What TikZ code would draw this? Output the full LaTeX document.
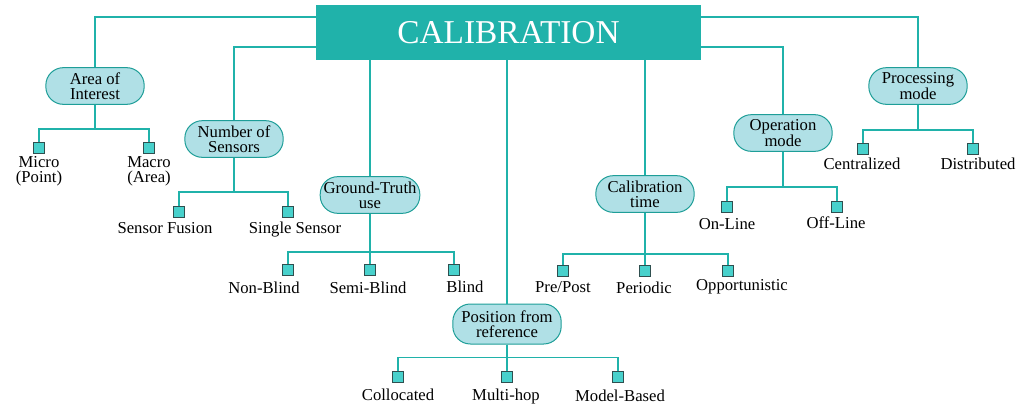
\documentclass[tikz,border=0pt]{standalone}
\usepackage{fontspec}
\setmainfont{Liberation Serif}
\usetikzlibrary{calc}

\definecolor{seagreen}{HTML}{20B2AA}
\definecolor{pillfill}{HTML}{B0E0E6}
\definecolor{pilldraw}{HTML}{1E9E98}
\definecolor{leaffill}{HTML}{48D1CC}
\definecolor{leafdraw}{HTML}{2F4F4F}

\tikzset{
  title/.style={fill=seagreen, text=white, minimum width=231pt, minimum height=33pt,
    font=\fontsize{20}{22}\selectfont},
  pill/.style={draw=pilldraw, fill=pillfill, rounded corners=10.5pt, line width=0.6pt,
    minimum width=59pt, minimum height=22pt, inner xsep=2pt, inner ysep=1pt,
    align=center, font=\fontsize{10}{9}\selectfont},
  leaf/.style={draw=leafdraw, fill=leaffill, minimum size=6.6pt, inner sep=0pt, line width=0.5pt},
  lbl/.style={align=center, inner sep=0pt, font=\fontsize{10}{9}\selectfont},
  wire/.style={draw=seagreen, line width=0.9pt}
}

\begin{document}
\begin{tikzpicture}[x=0.6pt,y=-0.6pt]
        \useasboundingbox (0,0) rectangle (1018,407);

        % main box
        \node[title] (calib) at (508.5,32.5) {CALIBRATION};

        % first level
        \begin{scope}[every node/.style={pill}]
          \node (area) at (95,86)   {Area of\\Interest};
          \node (nsen) at (234,139) {Number of\\Sensors};
          \node (gt)   at (370,195) {Ground-Truth\\use};
          \node (pos)  at (507,324) [minimum width=65pt, minimum height=24pt] {Position from\\reference};
          \node (ctim) at (645,194) {Calibration\\time};
          \node (opm)  at (783,133) {Operation\\mode};
          \node (prm)  at (918,86)  {Processing\\mode};
        \end{scope}

        % leaves
        \begin{scope}[every node/.style={leaf}]
          \node (a1) at (39,148)  {};
          \node (a2) at (149,148) {};
          \node (n1) at (179,212) {};
          \node (n2) at (288,212) {};
          \node (g1) at (288,270) {};
          \node (g2) at (370,270) {};
          \node (g3) at (454,270) {};
          \node (p1) at (398,377) {};
          \node (p2) at (507,377) {};
          \node (p3) at (618,377) {};
          \node (c1) at (563,271) {};
          \node (c2) at (645,271) {};
          \node (c3) at (728,271) {};
          \node (o1) at (727,207) {};
          \node (o2) at (837,207) {};
          \node (r1) at (863,149) {};
          \node (r2) at (973,149) {};
        \end{scope}

        % leaf labels
        \begin{scope}[every node/.style={lbl}]
          \node (ta1) at (39,171)  {Micro\\(Point)};
          \node (ta2) at (149,171) {Macro\\(Area)};
          \node (tn1) at (165,228) {Sensor Fusion};
          \node (tn2) at (295,230) {Single Sensor};
          \node (tg1) at (264,288) {Non-Blind};
          \node (tg2) at (368,288) {Semi-Blind};
          \node (tg3) at (465,287) {Blind};
          \node (tp1) at (398,395) {Collocated};
          \node (tp2) at (506,396) {Multi-hop};
          \node (tp3) at (620,396) {Model-Based};
          \node (tc1) at (563,287) {Pre/Post};
          \node (tc2) at (644,288) {Periodic};
          \node (tc3) at (742,287) {Opportunistic};
          \node (to1) at (727,224) {On-Line};
          \node (to2) at (836,223) {Off-Line};
          \node (tr1) at (862,164) {Centralized};
          \node (tr2) at (978,164) {Distributed};
        \end{scope}

        \begin{scope}[every path/.style={wire}]
          % from the main box
          \path ($(calib.west)+(0,-15.5)$) -| (area.north);
          \path ($(calib.west)+(0,14.5)$)  -| (nsen.north);
          \path ($(calib.east)+(0,-15.5)$) -| (prm.north);
          \path ($(calib.east)+(0,14.5)$)  -| (opm.north);
          \path (gt.north |- calib.south)   -- (gt.north);
          \path (pos.north |- calib.south)  -- (pos.north);
          \path (ctim.north |- calib.south) -- (ctim.north);

          % buses to the leaves
          \path (area.south) -- ++(0,24) -| (a1.north);
          \path (area.south) -- ++(0,24) -| (a2.north);
          \path (nsen.south) -- ++(0,34) -| (n1.north);
          \path (nsen.south) -- ++(0,34) -| (n2.north);
          \path (gt.south)   -- ++(0,38) -| (g1.north);
          \path (gt.south)   -- (g2.north);
          \path (gt.south)   -- ++(0,38) -| (g3.north);
          \path (pos.south)  -- ++(0,13) -| (p1.north);
          \path (pos.south)  -- (p2.north);
          \path (pos.south)  -- ++(0,13) -| (p3.north);
          \path (ctim.south) -- ++(0,41) -| (c1.north);
          \path (ctim.south) -- (c2.north);
          \path (ctim.south) -- ++(0,41) -| (c3.north);
          \path (opm.south)  -- ++(0,35) -| (o1.north);
          \path (opm.south)  -- ++(0,35) -| (o2.north);
          \path (prm.south)  -- ++(0,25) -| (r1.north);
          \path (prm.south)  -- ++(0,25) -| (r2.north);
        \end{scope}

      \end{tikzpicture}
\end{document}
